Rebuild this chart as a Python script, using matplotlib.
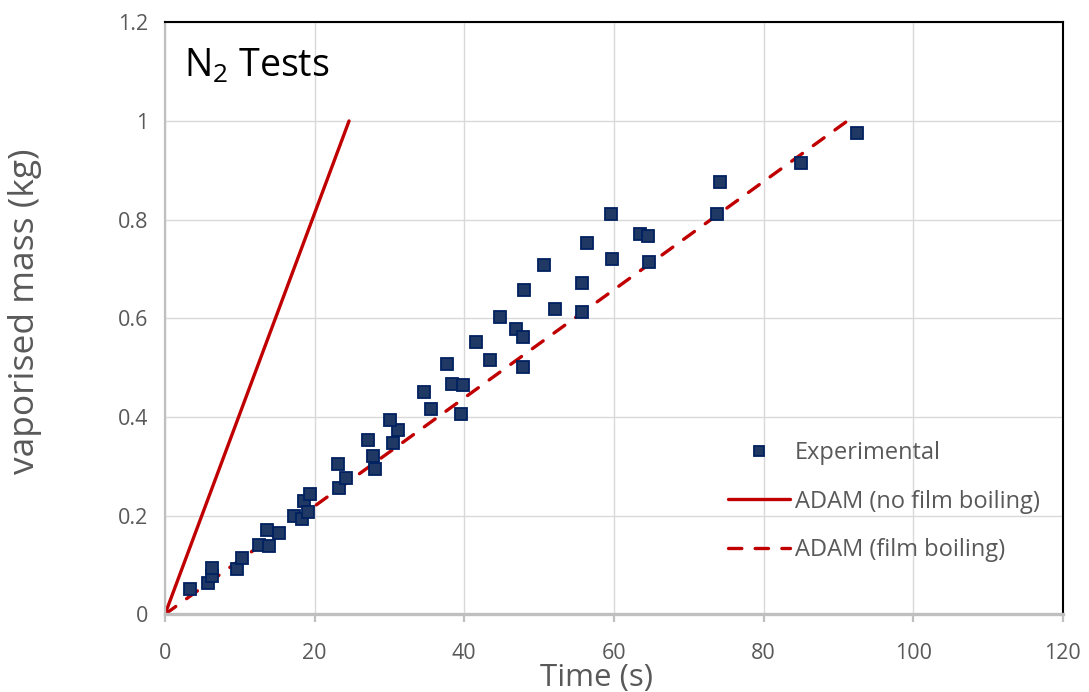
import matplotlib
matplotlib.use("Agg")
import matplotlib.pyplot as plt
from matplotlib.ticker import FuncFormatter

plt.rcParams['font.family'] = ['Open Sans', 'DejaVu Sans']
plt.rcParams['mathtext.fontset'] = 'custom'
plt.rcParams['mathtext.rm'] = 'Open Sans'

# Experimental vaporised mass of N2 over time
exp_time = [3.4, 5.8, 6.3, 6.3, 9.6, 10.3, 12.5, 13.9, 13.7, 15.3,
            17.2, 18.3, 18.6, 19.1, 19.4, 23.2, 24.2, 23.1, 27.1, 27.8,
            28.1, 30.5, 31.1, 30.1, 34.6, 35.6, 37.7, 38.4, 39.8, 39.5,
            41.5, 43.5, 44.8, 46.9, 47.8, 47.9, 52.1, 50.7, 48.0, 55.8,
            55.8, 56.4, 59.8, 59.6, 63.5, 64.6, 64.7, 73.8, 74.2, 85.0, 92.5]
exp_mass = [0.051, 0.063, 0.078, 0.093, 0.092, 0.115, 0.140, 0.139, 0.170, 0.164,
            0.200, 0.193, 0.230, 0.207, 0.243, 0.255, 0.277, 0.305, 0.353, 0.321,
            0.294, 0.347, 0.374, 0.393, 0.451, 0.416, 0.507, 0.467, 0.465, 0.405,
            0.551, 0.516, 0.603, 0.578, 0.563, 0.502, 0.618, 0.707, 0.658, 0.672,
            0.613, 0.753, 0.720, 0.811, 0.770, 0.767, 0.714, 0.811, 0.876, 0.914, 0.975]

# ADAM model predictions
adam_nofb_time = [0, 24.6]
adam_nofb_mass = [0, 1.0]
adam_fb_time = [0, 91.2]
adam_fb_mass = [0, 1.0]

x_ticks = [0, 20, 40, 60, 80, 100, 120]
y_ticks = [0, 0.2, 0.4, 0.6, 0.8, 1.0, 1.2]

grey_text = '#595959'
red = '#C00000'

fig = plt.figure(figsize=(10.89, 6.92), dpi=100)
ax = fig.add_axes([0.1515, 0.1123, 0.8245, 0.8555])

ax.plot(exp_time, exp_mass, linestyle='none', marker='s', markersize=9,
        markerfacecolor='#203864', markeredgecolor='#002060', markeredgewidth=1.3,
        label='Experimental', zorder=3)
ax.plot(adam_nofb_time, adam_nofb_mass, color=red, linewidth=2.4,
        solid_capstyle='round', label='ADAM (no film boiling)', zorder=2)
ax.plot(adam_fb_time, adam_fb_mass, color=red, linewidth=2.4,
        linestyle=(0, (4, 4)), dash_capstyle='round',
        label='ADAM (film boiling)', zorder=2)

ax.set_xlim(0, 120)
ax.set_ylim(0, 1.2)
ax.set_xticks(x_ticks)
ax.set_yticks(y_ticks)
ax.yaxis.set_major_formatter(FuncFormatter(lambda v, p: f'{v:g}'))

ax.grid(True, color='#D9D9D9', linewidth=1.0)
ax.set_axisbelow(True)

for side in ('top', 'right'):
    ax.spines[side].set_color('black')
    ax.spines[side].set_linewidth(1.5)
ax.spines['bottom'].set_color('#BFBFBF')
ax.spines['bottom'].set_linewidth(2.4)
ax.spines['left'].set_color('#BFBFBF')
ax.spines['left'].set_linewidth(1.6)

ax.tick_params(axis='x', direction='out', length=6, width=1.6, color='#BFBFBF',
               labelsize=15.5, labelcolor=grey_text, pad=15)
ax.tick_params(axis='y', length=0, labelsize=15.5, labelcolor=grey_text, pad=12)

ax.set_xlabel('Time (s)', fontsize=22.5, color=grey_text)
ax.xaxis.set_label_coords(0.4805, -0.083)
ax.set_ylabel('vaporised mass (kg)', fontsize=25.5, color=grey_text)
ax.yaxis.set_label_coords(-0.137, 0.5115)

ax.text(0.021, 0.9076, r'N$_\mathregular{2}$ Tests', transform=ax.transAxes,
        fontsize=27, color='black', ha='left', va='baseline')

leg = ax.legend(loc='upper left', bbox_to_anchor=(0.6032, 0.328), frameon=False,
                fontsize=17, labelcolor=grey_text, handlelength=2.63,
                handletextpad=0.21, labelspacing=1.03, markerscale=0.8)

fig.savefig('out.png', dpi=100)
